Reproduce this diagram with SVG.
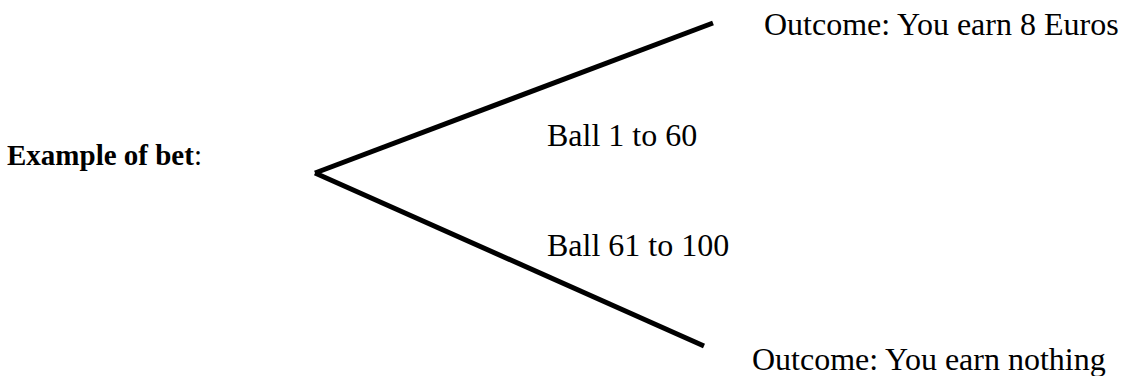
<svg xmlns="http://www.w3.org/2000/svg" width="1125" height="376" viewBox="0 0 1125 376">
  <style>
    .t { font-family: "Liberation Serif", "Times New Roman", serif; font-size: 32px; fill: #000; }
    .b { font-weight: bold; font-size: 29px; }
    .edge { stroke: #000; stroke-width: 5; fill: none; stroke-linecap: butt; }
  </style>
  <rect width="1125" height="376" fill="#fff"/>
  <g id="connectors">
    <line class="edge" x1="315" y1="173" x2="713" y2="23"/>
    <line class="edge" x1="315" y1="173" x2="704" y2="346"/>
    <text id="label-win" class="t" x="547" y="146">Ball 1 to 60</text>
    <text id="label-lose" class="t" x="547" y="256">Ball 61 to 100</text>
  </g>
  <g id="node-bet">
    <text class="t b" x="7" y="165">Example of bet<tspan font-weight="normal">:</tspan></text>
  </g>
  <g id="node-win">
    <text class="t" x="764" y="35">Outcome: You earn 8 Euros</text>
  </g>
  <g id="node-lose">
    <text class="t" x="752" y="370">Outcome: You earn nothing</text>
  </g>
</svg>
